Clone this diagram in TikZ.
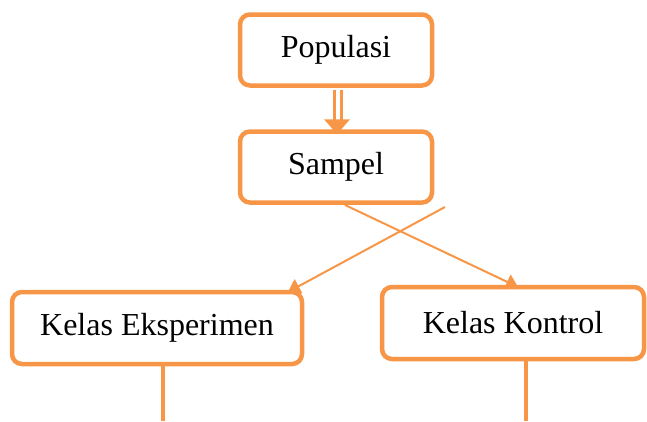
\documentclass[tikz,border=0pt]{standalone}
\usepackage{fontspec}
\setmainfont{Liberation Serif}
\usetikzlibrary{arrows.meta}
\definecolor{org}{RGB}{247,150,70}
\begin{document}
\begin{tikzpicture}[x=1pt,y=-1pt,
  box/.style={draw=org,line width=4.5pt,rounded corners=10pt,fill=white,inner sep=0pt,
    font=\fontsize{32}{38}\selectfont,text=black},
  conn/.style={draw=org,line width=2pt},
  tip/.style={-{Triangle[length=12pt,width=16pt]}}]
\useasboundingbox (0,0) rectangle (647,421);
\node[box,minimum width=192pt,minimum height=71pt] (pop) at (336,50) {Populasi};
\node[box,minimum width=192pt,minimum height=71pt] (sam) at (336,167) {Sampel};
\node[box,minimum width=290pt,minimum height=72pt] (eks) at (157,328) {Kelas Eksperimen};
\node[box,minimum width=262pt,minimum height=72pt] (kon) at (513,323) {Kelas Kontrol};
% double arrow
\draw[org,line width=10pt] (pop.south) ++(2,2) -- ++(0,36);
\draw[white,line width=4pt] (pop.south) ++(2,2) -- ++(0,36);
\fill[org] (sam.north) ++(-12,-10) -- ++(26,0) -- ++(-13,15) -- cycle;
% crossing connectors
\coordinate (s1) at (345,205);
\coordinate (s2) at (445,207);
\coordinate (e1) at (288,292);
\coordinate (k1) at (518,287);
\draw[conn,tip] (s1) -- (k1);
\draw[conn,tip] (s2) -- (e1);
% bottom lines
\coordinate (eb) at (163,421);
\coordinate (kb) at (526,421);
\draw[org,line width=4.5pt] (eks.south -| eb) -- (eb);
\draw[org,line width=4.5pt] (kon.south -| kb) -- (kb);
\end{tikzpicture}
\end{document}
